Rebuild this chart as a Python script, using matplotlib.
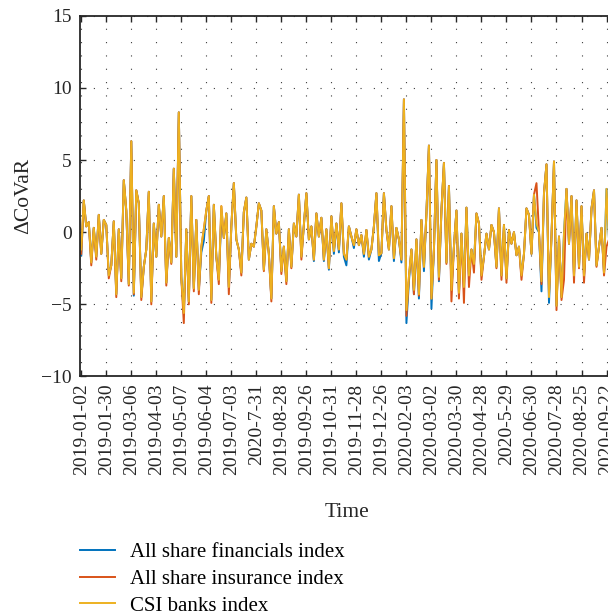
import numpy as np
import matplotlib.pyplot as plt

plt.rcParams['font.family'] = ['Liberation Serif', 'DejaVu Serif']

# trading-day index of every sample (one value every 2 trading days)
step = 2
tick_days = list(range(0, 421, 20))
tick_labels = ['2019-01-02', '2019-01-30', '2019-03-06', '2019-04-03', '2019-05-07',
               '2019-06-04', '2019-07-03', '2020-7-31', '2019-08-28', '2019-09-26',
               '2019-10-31', '2019-11-28', '2019-12-26', '2020-02-03', '2020-03-02',
               '2020-03-30', '2020-04-28', '2020-5-29', '2020-06-30', '2020-07-28',
               '2020-08-25', '2020-09-22']

# Delta CoVaR, CSI banks index
banks = [
    -1.2, 2.2, 0.4, 0.7, -2.1, 0.3, -1.7, 1.2, -1.5, 0.85,
    0.5, -3.0, -2.3, 0.75, -4.3, 0.2, -3.2, 3.6, 1.5, -3.6,
    6.3, -4.2, 2.9, 2.0, -4.5, -2.4, -1.2, 2.8, -4.8, 0.6,
    -1.7, 1.9, -0.3, 2.5, -3.5, -0.4, -2.1, 4.4, -1.7, 8.3,
    -3.1, -5.6, 0.2, -4.8, 2.5, -3.9, 0.85, -4.0, -1.0, 0.2,
    1.5, 2.5, -4.7, 1.9, -1.7, -3.3, 1.8, -0.4, 1.3, -3.8,
    0.4, 3.4, -0.5, -1.2, -2.8, 1.4, 2.4, -1.9, -0.8, -1.0,
    0.4, 2.0, 1.5, -2.6, 0.2, -1.5, -4.6, 1.8, -0.1, 0.7,
    -2.7, -1.0, -3.4, 0.2, -2.4, 0.6, -0.3, 2.6, -1.7, 0.5,
    2.7, -0.5, 0.4, -1.9, 1.3, -0.3, 1.0, -1.9, 0.2, -2.5,
    1.1, -1.3, 0.6, -1.2, 2.0, -1.5, -1.9, 0.4, -0.3, -0.9,
    0.2, -0.9, -0.2, -1.5, 0.15, -1.7, -1.2, 0.4, 2.7, -1.6,
    -1.45, 2.7, 0.15, -1.2, 1.8, -1.8, 0.3, -0.5, -1.9, 9.2,
    -5.4, -3.1, -1.2, -4.0, -0.5, -4.3, 0.85, -2.4, 1.3, 6.0,
    -4.6, -1.2, 5.0, -3.1, 1.5, 4.8, -2.1, 3.2, -4.0, -1.0,
    1.5, -4.2, -0.1, -3.8, 1.7, -3.0, -1.2, -2.2, 1.3, 0.6,
    -3.0, -1.7, -0.1, -1.2, 0.5, 0.0, -2.4, 1.65, -3.0, 0.5,
    -3.2, 0.15, -0.8, 0.0, -1.6, -1.0, -3.0, -1.5, 1.65, 1.2,
    -1.5, 2.6, 0.6, 0.0, -3.4, 2.7, 4.7, -4.5, -0.3, 4.9,
    -5.1, -0.3, -4.5, -0.1, 3.0, -0.8, 2.5, -3.0, 2.2, -2.4,
    1.8, -3.0, -0.1, -1.9, 1.65, 2.9, -2.3, -1.0, 0.3, -2.8,
    3.0, -0.5,
]

# Delta CoVaR, all share insurance index
insurance = [
    -1.5, 2.2, 0.4, 0.7, -2.3, 0.3, -1.9, 1.2, -1.5, 0.85,
    0.5, -3.2, -2.3, 0.75, -4.5, 0.2, -3.4, 3.6, 1.5, -3.7,
    6.3, -4.3, 2.9, 2.0, -4.7, -2.4, -1.2, 2.8, -5.0, 0.6,
    -1.7, 1.9, -0.3, 2.5, -3.7, -0.4, -2.2, 4.4, -1.7, 8.3,
    -3.2, -6.3, 0.2, -5.0, 2.5, -4.1, 0.85, -4.3, -1.0, 0.2,
    1.5, 2.5, -4.9, 1.9, -1.7, -3.6, 1.8, -0.4, 1.3, -4.3,
    0.4, 3.4, -0.5, -1.2, -3.0, 1.4, 2.4, -1.9, -0.8, -1.0,
    0.4, 2.0, 1.5, -2.7, 0.2, -1.5, -4.8, 1.8, -0.1, 0.7,
    -2.9, -1.0, -3.6, 0.2, -2.5, 0.6, -0.3, 2.6, -1.9, 0.5,
    2.7, -0.5, 0.4, -1.9, 1.3, -0.3, 1.0, -1.9, 0.2, -2.5,
    1.1, -1.3, 0.6, -1.2, 2.0, -1.5, -1.9, 0.4, -0.3, -0.9,
    0.2, -0.9, -0.2, -1.5, 0.15, -1.7, -1.2, 0.4, 2.7, -1.6,
    -1.45, 2.7, 0.15, -1.2, 1.8, -1.8, 0.3, -0.5, -1.9, 9.2,
    -5.8, -3.1, -1.2, -4.3, -0.5, -4.4, 0.85, -2.4, 1.3, 6.0,
    -4.6, -1.2, 5.0, -3.3, 1.5, 4.8, -2.2, 3.2, -4.8, -1.0,
    1.5, -4.6, -0.1, -4.9, 1.7, -3.8, -1.2, -2.8, 1.3, 0.6,
    -3.3, -1.7, -0.1, -1.2, 0.5, 0.0, -2.5, 1.65, -3.3, 0.5,
    -3.5, 0.15, -0.8, 0.0, -1.6, -1.0, -3.3, -1.5, 1.65, 1.2,
    -1.5, 2.6, 3.4, 0.0, -3.6, 2.7, 4.7, -4.3, -0.3, 4.9,
    -5.4, -0.3, -4.7, -3.3, 3.0, -0.8, 2.5, -3.5, 2.2, -2.5,
    1.8, -3.5, -0.1, -1.9, 1.65, 2.9, -2.4, -1.0, 0.3, -3.0,
    -1.0, -0.5,
]

# Delta CoVaR, all share financials index
financials = [
    -1.6, 2.2, 0.4, 0.7, -2.1, 0.3, -1.7, 1.2, -1.5, 0.85,
    0.5, -3.0, -2.3, 0.75, -4.3, 0.2, -3.2, 3.6, 1.5, -3.6,
    6.3, -4.4, 2.9, 2.0, -4.5, -2.4, -1.2, 2.8, -4.8, 0.6,
    -1.7, 1.9, -0.3, 2.5, -3.5, -0.4, -2.1, 4.4, -1.7, 8.3,
    -3.1, -5.6, 0.2, -4.8, 2.5, -3.9, 0.85, -4.0, -1.4, -0.6,
    1.5, 2.5, -4.7, 1.9, -1.7, -3.3, 1.2, -0.4, 1.3, -3.8,
    0.4, 3.4, -0.5, -1.2, -2.8, 1.4, 2.4, -1.9, -0.8, -1.0,
    0.4, 2.0, 1.5, -2.6, 0.2, -1.5, -4.6, 1.8, -0.1, 0.7,
    -2.7, -1.0, -3.4, 0.2, -2.4, 0.6, -0.3, 2.6, -1.7, 0.5,
    2.7, -0.5, 0.4, -2.0, 1.3, -0.3, 1.0, -2.0, 0.2, -2.6,
    1.1, -1.5, 0.6, -1.4, 2.0, -1.7, -2.3, 0.4, -0.3, -1.1,
    0.2, -0.9, -0.2, -1.7, 0.15, -1.9, -1.2, 0.4, 2.7, -2.0,
    -1.45, 2.7, 0.15, -1.2, 1.8, -2.0, 0.3, -0.5, -2.1, 9.2,
    -6.3, -3.4, -1.2, -4.3, -0.5, -4.6, 0.85, -2.7, 1.3, 6.0,
    -5.3, -1.2, 5.0, -3.4, 1.5, 4.8, -2.1, 3.2, -4.0, -1.0,
    1.5, -4.2, -0.1, -3.8, 1.7, -3.0, -1.2, -2.2, 1.3, 0.6,
    -3.0, -1.7, -0.1, -1.2, 0.5, 0.0, -2.4, 1.65, -3.0, 0.5,
    -3.2, 0.15, -0.8, 0.0, -1.6, -1.0, -3.0, -1.5, 1.65, 1.2,
    -1.5, 2.6, 0.3, 0.0, -4.1, 2.7, 4.7, -4.9, -0.3, 4.9,
    -5.1, -0.3, -4.5, -0.1, 3.0, -0.8, 2.5, -3.0, 2.2, -2.4,
    1.8, -3.0, -0.1, -1.9, 1.65, 2.9, -2.3, -1.0, 0.3, -2.8,
    3.0, -0.5,
]

days = np.arange(len(banks)) * step

fig = plt.figure(figsize=(6.08, 6.16), dpi=100)
ax = fig.add_axes([0.1316, 0.3888, 0.8783, 0.5857])

ax.plot(days, financials, color='#0072BD', lw=1.4, label='All share financials index')
ax.plot(days, insurance, color='#D95319', lw=1.4, label='All share insurance index')
ax.plot(days, banks, color='#EDB120', lw=1.4, label='CSI banks index')

ax.set_xlim(-1, 426)
ax.set_ylim(-10, 15)
ax.set_yticks([-10, -5, 0, 5, 10, 15])
ax.set_xticks(tick_days)
ax.set_xticklabels(tick_labels, rotation=90, va='top', ha='center')

ax.set_axisbelow(True)
ax.grid(True, linestyle=(0, (1, 11)), color='#1a1a1a', linewidth=0.8, alpha=0.85)
ax.tick_params(direction='in', top=True, length=4, width=1, labelsize=14,
               colors='#262626')
ax.tick_params(axis='x', pad=5)
ax.tick_params(axis='y', pad=6)
for side in ['left', 'bottom', 'top']:
    ax.spines[side].set_linewidth(1.3)
    ax.spines[side].set_color('#262626')
ax.spines['right'].set_visible(False)

ax.set_ylabel('ΔCoVaR', fontsize=15.5, color='#262626', labelpad=6)
ax.set_xlabel('Time', fontsize=15.5, color='#262626', labelpad=20)

fig.legend(loc='upper left', bbox_to_anchor=(0.1316, 0.119), frameon=False,
           fontsize=15, handlelength=1.7, handletextpad=0.7, labelspacing=0.34,
           borderpad=0, borderaxespad=0)

fig.savefig('out.png', dpi=100)
